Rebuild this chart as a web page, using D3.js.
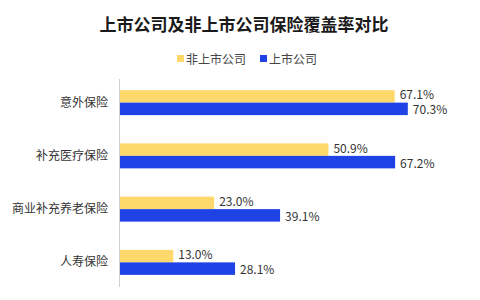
<!DOCTYPE html>
<html>
<head>
<meta charset="utf-8">
<script src="https://cdn.jsdelivr.net/npm/d3@7"></script>
<style>
body { margin: 0; background: #fff; }
svg { font-family: "Noto Sans CJK SC", "Noto Sans", sans-serif; }
</style>
</head>
<body>
<script>
const width = 480;
const height = 300;

//-----------------------------DATA------------------------------//
const categories = ["意外保险", "补充医疗保险", "商业补充养老保险", "人寿保险"];
const seriesNames = ["非上市公司", "上市公司"];
const unlisted = [67.1, 50.9, 23.0, 13.0];
const listed = [70.3, 67.2, 39.1, 28.1];
const colors = ["#FDD86B", "#1F42E6"];

const svg = d3.select("body").append("svg")
  .attr("width", width).attr("height", height);

// title
svg.append("text").attr("x", 244).attr("y", 31)
  .attr("text-anchor", "middle").attr("font-size", 17).attr("font-weight", "bold")
  .attr("fill", "#1a1a1a").text("上市公司及非上市公司保险覆盖率对比");

// legend
const legendX = [177, 260];
seriesNames.forEach(function(name, i) {
  svg.append("rect").attr("x", legendX[i]).attr("y", 55)
    .attr("width", 7).attr("height", 7).attr("fill", colors[i]);
  svg.append("text").attr("x", legendX[i] + 9).attr("y", 63.5)
    .attr("font-size", 12).attr("fill", "#444").text(name);
});

//----------------------------SCALES-----------------------------//
const xScale = d3.scaleLinear().domain([0, 85]).range([120, 468]);
const yScale = d3.scaleBand().domain(categories).range([76, 289]);
const inner = d3.scaleBand().domain([0, 1]).range([0, 25]);

// axis line
svg.append("line").attr("x1", 119.5).attr("x2", 119.5)
  .attr("y1", 79).attr("y2", 287).attr("stroke", "#d0d0d0");

// category labels
svg.selectAll(".cat").data(categories).enter().append("text")
  .attr("class", "cat")
  .attr("x", 108).attr("y", function(d) { return yScale(d) + yScale.bandwidth() / 2 + 4; })
  .attr("text-anchor", "end").attr("font-size", 12).attr("fill", "#333")
  .text(function(d) { return d; });

//----------------------------BARS------------------------------//
const series = [unlisted, listed];
series.forEach(function(vals, s) {
  const g = svg.append("g");
  const off = yScale.bandwidth() / 2 - 12.5;
  const nudge = s === 0 ? -1 : 1.5;
  g.selectAll("rect").data(vals).enter().append("rect")
    .attr("x", xScale(0))
    .attr("y", function(d, i) { return yScale(categories[i]) + off + inner(s); })
    .attr("width", function(d) { return xScale(d) - xScale(0); })
    .attr("height", inner.bandwidth())
    .attr("fill", colors[s]);
  g.selectAll("text").data(vals).enter().append("text")
    .attr("x", function(d) { return xScale(d) + 5; })
    .attr("y", function(d, i) { return yScale(categories[i]) + off + inner(s) + inner.bandwidth() / 2 + 4 + nudge; })
    .attr("font-size", 12).attr("fill", "#333")
    .text(function(d) { return d.toFixed(1) + "%"; });
});
</script>
</body>
</html>
